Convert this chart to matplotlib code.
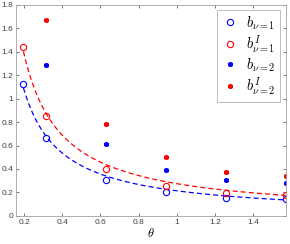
import numpy as np
import matplotlib
matplotlib.use("Agg")
import matplotlib.pyplot as plt
from matplotlib.ticker import FuncFormatter

theta = np.pi * np.array([1 / 16, 1 / 10, 1 / 5, 3 / 10, 2 / 5, 1 / 2])

b_nu1 = [1.12, 0.66, 0.31, 0.207, 0.153, 0.142]
bI_nu1 = [1.44, 0.85, 0.40, 0.255, 0.196, 0.176]
b_nu2 = [np.nan, 1.29, 0.61, 0.395, 0.304, 0.281]
bI_nu2 = [np.nan, 1.67, 0.78, 0.50, 0.377, 0.343]

labels = [r"$b_{\nu=1}$", r"$b^I_{\nu=1}$", r"$b_{\nu=2}$", r"$b^I_{\nu=2}$"]


def fit_inv(x, y):
    # least squares fit of y = a / x
    x = np.asarray(x)
    y = np.asarray(y)
    return np.sum(y / x) / np.sum(1 / x ** 2)


plt.rcParams["mathtext.fontset"] = "cm"
plt.rcParams["font.family"] = ["Liberation Sans", "DejaVu Sans"]

fig = plt.figure(figsize=(2.9, 2.44), dpi=100)
ax = fig.add_axes([0.055, 0.115, 0.93, 0.866])

xx = np.linspace(theta[0], theta[-1], 200)
a_b = fit_inv(theta, b_nu1)
a_r = fit_inv(theta, bI_nu1)
ax.plot(xx, a_b / xx, "--", color="b", lw=0.9, dashes=(4, 2.5))
ax.plot(xx, a_r / xx, "--", color="r", lw=0.9, dashes=(4, 2.5))

star = (6, 2, 0)
ax.plot(theta, b_nu1, "o", mfc="none", mec="b", ms=4.5, mew=0.8, label=labels[0])
ax.plot(theta, bI_nu1, "o", mfc="none", mec="r", ms=4.5, mew=0.8, label=labels[1])
ax.plot(theta, b_nu2, marker=star, ls="none", color="b", ms=3.5, mew=1.2, label=labels[2])
ax.plot(theta, bI_nu2, marker=star, ls="none", color="r", ms=3.5, mew=1.2, label=labels[3])

ax.set_xlim(np.pi / 20, np.pi / 2)
ax.set_ylim(0, 1.8)
ax.set_xticks([0.2, 0.4, 0.6, 0.8, 1.0, 1.2, 1.4])
ax.set_yticks(np.arange(0, 1.81, 0.2))
fmt = FuncFormatter(lambda v, p: ("%g" % round(v, 2)))
ax.xaxis.set_major_formatter(fmt)
ax.yaxis.set_major_formatter(fmt)
ax.tick_params(direction="in", length=2.5, width=0.5, labelsize=6, pad=2,
               colors="#404040", top=True, right=True)
for s in ax.spines.values():
    s.set_color("#a0a0a0")
    s.set_linewidth(0.6)

ax.set_xlabel(r"$\theta$", fontsize=9, labelpad=1)

leg = ax.legend(loc="upper right", fontsize=10.5, handlelength=1.1, handletextpad=0.6,
                borderpad=0.3, labelspacing=0.1, fancybox=False,
                bbox_to_anchor=(0.98, 0.975), borderaxespad=0)
leg.get_frame().set_edgecolor("#a0a0a0")
leg.get_frame().set_linewidth(0.6)

fig.savefig("out.png", dpi=100)
